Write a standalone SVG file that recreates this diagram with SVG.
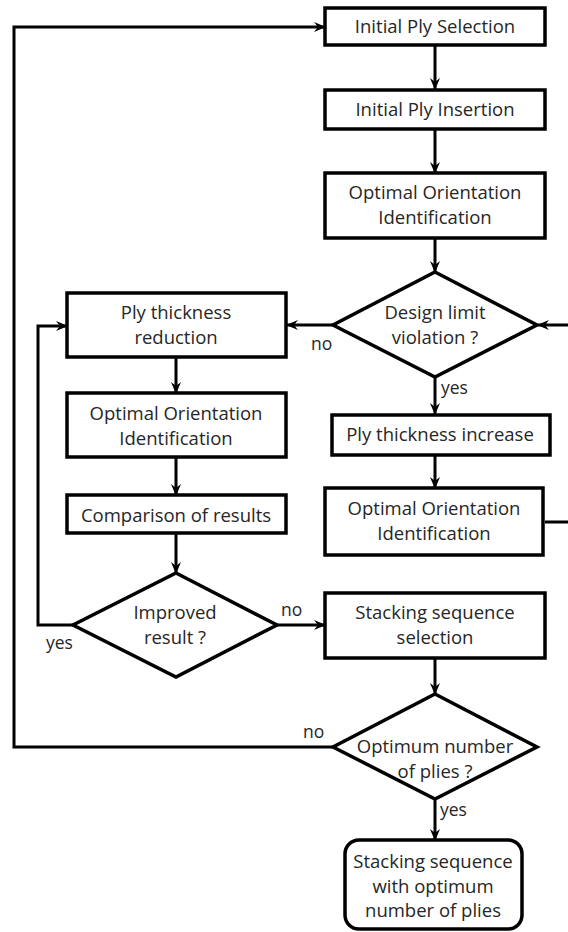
<svg xmlns="http://www.w3.org/2000/svg" width="568" height="932" viewBox="0 0 568 932">
<style>
.box{fill:#fff;stroke:#000;stroke-width:3.5}
.t{font-family:"Open Sans","Liberation Sans",sans-serif;font-size:18.5px;fill:#262626;text-anchor:middle}
.lb{font-family:"Open Sans","Liberation Sans",sans-serif;font-size:17.5px;fill:#262626}
.c{fill:none;stroke:#000;stroke-width:3}
</style>
<defs>
<marker id="ah" viewBox="0 0 12 10" refX="11" refY="5" markerWidth="12" markerHeight="10" markerUnits="userSpaceOnUse" orient="auto">
<path d="M0,0 L12,5 L0,10 L4,5 z" fill="#000"/>
</marker>
</defs>
<rect width="568" height="932" fill="#fff"/>
<g id="connectors">
<path class="c" d="M435,45 V89" marker-end="url(#ah)"/>
<path class="c" d="M435,129 V173" marker-end="url(#ah)"/>
<path class="c" d="M435,238 V272" marker-end="url(#ah)"/>
<path class="c" d="M333,325 H287" marker-end="url(#ah)"/>
<path class="c" d="M435,377 V414" marker-end="url(#ah)"/>
<path class="c" d="M435,455 V488" marker-end="url(#ah)"/>
<path class="c" d="M545,522 H571 V325 H538" marker-end="url(#ah)"/>
<path class="c" d="M176,357 V393" marker-end="url(#ah)"/>
<path class="c" d="M176,457 V495" marker-end="url(#ah)"/>
<path class="c" d="M176,533 V573" marker-end="url(#ah)"/>
<path class="c" d="M73,625 H38 V326 H67" marker-end="url(#ah)"/>
<path class="c" d="M277,625 H325" marker-end="url(#ah)"/>
<path class="c" d="M435,658 V694" marker-end="url(#ah)"/>
<path class="c" d="M333,747 H14 V27 H325" marker-end="url(#ah)"/>
<path class="c" d="M435,799 V840" marker-end="url(#ah)"/>
</g>
<g id="n1"><rect class="box" x="325" y="8" width="220" height="37"/><text class="t" x="435" y="33">Initial Ply Selection</text></g>
<g id="n2"><rect class="box" x="325" y="90" width="220" height="39"/><text class="t" x="435" y="116">Initial Ply Insertion</text></g>
<g id="n3"><rect class="box" x="325" y="173" width="220" height="65"/><text class="t" x="435" y="199">Optimal Orientation</text><text class="t" x="435" y="224">Identification</text></g>
<g id="n4"><polygon class="box" points="435,272 537,325 435,377 333,325"/><text class="t" x="435" y="319">Design limit</text><text class="t" x="435" y="344">violation ?</text></g>
<g id="n5"><rect class="box" x="67" y="293" width="219" height="64"/><text class="t" x="176" y="319">Ply thickness</text><text class="t" x="176" y="344">reduction</text></g>
<g id="n6"><rect class="box" x="332" y="415" width="218" height="40"/><text class="t" x="440" y="441">Ply thickness increase</text></g>
<g id="n7"><rect class="box" x="67" y="393" width="219" height="64"/><text class="t" x="176" y="420">Optimal Orientation</text><text class="t" x="176" y="445">Identification</text></g>
<g id="n8"><rect class="box" x="325" y="488" width="218" height="67"/><text class="t" x="434" y="515">Optimal Orientation</text><text class="t" x="434" y="540">Identification</text></g>
<g id="n9"><rect class="box" x="67" y="495" width="219" height="38"/><text class="t" x="176" y="522">Comparison of results</text></g>
<g id="n10"><polygon class="box" points="176,573 277,625 176,677 73,625"/><text class="t" x="175" y="619">Improved</text><text class="t" x="175" y="644">result ?</text></g>
<g id="n11"><rect class="box" x="325" y="593" width="220" height="65"/><text class="t" x="435" y="619">Stacking sequence</text><text class="t" x="435" y="644">selection</text></g>
<g id="n12"><polygon class="box" points="435,694 537,747 435,799 333,747"/><text class="t" x="435" y="753">Optimum  number</text><text class="t" x="435" y="778">of plies ?</text></g>
<g id="n13"><rect class="box" x="345" y="840" width="177" height="89" rx="14"/><text class="t" x="433" y="868">Stacking sequence</text><text class="t" x="433" y="893">with optimum</text><text class="t" x="433" y="917">number  of plies</text></g>
<g id="labels">
<text class="lb" x="311" y="350">no</text>
<text class="lb" x="441" y="394">yes</text>
<text class="lb" x="46" y="649">yes</text>
<text class="lb" x="281" y="616">no</text>
<text class="lb" x="303" y="738">no</text>
<text class="lb" x="440" y="816">yes</text>
</g>
</svg>
